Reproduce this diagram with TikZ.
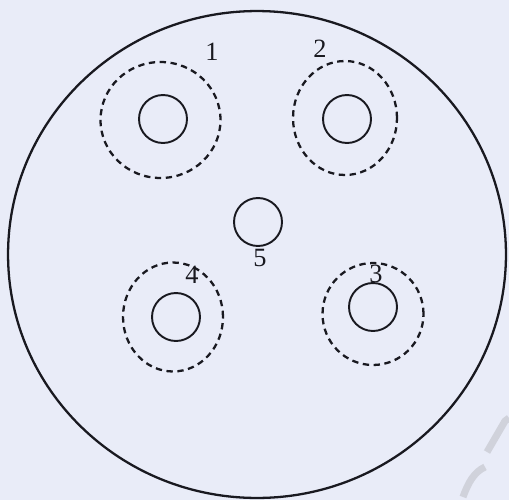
\documentclass[tikz,border=0pt]{standalone}
\usepackage{fontspec}
\setmainfont{Liberation Serif}
\usetikzlibrary{shapes.geometric}
\definecolor{paper}{RGB}{233,236,248}
\definecolor{ink}{RGB}{25,25,32}
\definecolor{wmark}{RGB}{208,210,219}

\begin{document}
\begin{tikzpicture}[x=0.02cm, y=-0.02cm,
  well/.style={draw=ink, circle, line width=1.1pt, minimum size=0.96cm, inner sep=0pt},
  zone/.style={draw=ink, ellipse, line width=1.3pt, dash pattern=on 3.6pt off 2.6pt, inner sep=0pt},
  num/.style={font=\fontsize{15}{17}\selectfont, text=ink, inner sep=0pt},
]
\fill[paper] (0,0) rectangle (509,500);
\useasboundingbox (0,0) rectangle (509,500);
\node[draw=ink, ellipse, line width=1.3pt, minimum width=9.96cm, minimum height=9.74cm, inner sep=0pt] (dish) at (257,254.5) {};
\draw[wmark, line width=4pt] (487,452) -- (505,421) -- (509,418);
\draw[wmark, line width=4pt] (485,467) .. controls (474,472) and (468,483) .. (463,497);
\node[zone, minimum width=2.40cm, minimum height=2.32cm] (z1) at (160.5,120) {};
\node[zone, minimum width=2.08cm, minimum height=2.28cm] (z2) at (345,118) {};
\node[zone, minimum width=2.02cm, minimum height=2.04cm] (z3) at (373,314) {};
\node[zone, minimum width=2.00cm, minimum height=2.18cm] (z4) at (173,317) {};
\node[well] (w1) at (163,119) {};
\node[well] (w2) at (347,119) {};
\node[well] (w3) at (373,307) {};
\node[well] (w4) at (176,317) {};
\node[well] (w5) at (258,222) {};
\node[num] (n1) at (212,52) {1};
\node[num] (n2) at (320,49) {2};
\node[num] (n3) at (376,274) {3};
\node[num] (n4) at (192,275) {4};
\node[num] (n5) at (260,258) {5};
\end{tikzpicture}
\end{document}
